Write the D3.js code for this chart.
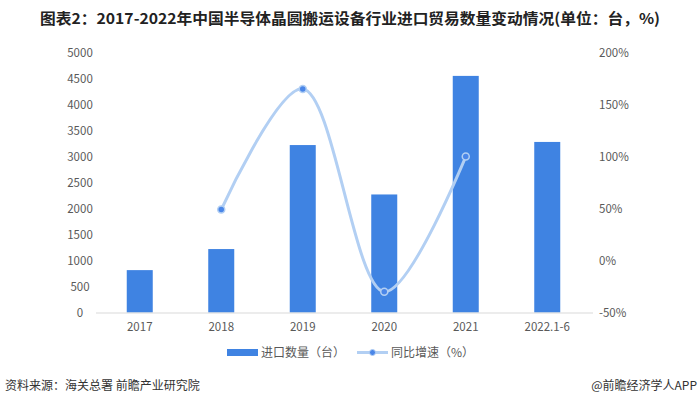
<!DOCTYPE html>
<html><head><meta charset="utf-8">
<script src="https://cdn.jsdelivr.net/npm/d3@7"></script>
<style>
html,body{margin:0;padding:0;background:#fff;}
svg{display:block;font-family:"Noto Sans CJK SC","Noto Sans",sans-serif;}
</style></head>
<body>
<svg id="chart" width="700" height="405"></svg>
<script>
const categories = ["2017","2018","2019","2020","2021","2022.1-6"];
const importQty = [815, 1220, 3220, 2270, 4550, 3280];
const yoyGrowth = [null, 49, 165, -30, 100, null];
const leftTicks = [0,500,1000,1500,2000,2500,3000,3500,4000,4500,5000];
const rightTicks = [-50,0,50,100,150,200];
const titleText = "图表2：2017-2022年中国半导体晶圆搬运设备行业进口贸易数量变动情况(单位：台，%)";
const legendLabels = ["进口数量（台）","同比增速（%）"];
const sourceText = "资料来源：海关总署 前瞻产业研究院";
const brandText = "@前瞻经济学人APP";

const svg = d3.select("#chart");
const barColor = "#3f83e2", lineColor = "#b2cff3", dotColor = "#4a86e8", textColor = "#595959";

const x = d3.scaleBand().domain(categories).range([99, 588]);
const yL = d3.scaleLinear().domain([0,5000]).range([312.5, 52.5]);
const yR = d3.scaleLinear().domain([-50,200]).range([312.5, 52.5]);

// title
svg.append("text").attr("x",350).attr("y",24).attr("text-anchor","middle")
  .attr("font-size",15).attr("font-weight","bold").attr("fill","#222")
  .attr("textLength",620).attr("lengthAdjust","spacingAndGlyphs").text(titleText);

// left axis labels
svg.append("g").selectAll("text").data(leftTicks).join("text")
  .attr("x",80).attr("y",d=>yL(d)).attr("dy","0.35em").attr("text-anchor","middle")
  .attr("font-size",11.5).attr("fill",textColor).text(d=>d);

// right axis labels
svg.append("g").selectAll("text").data(rightTicks).join("text")
  .attr("x",599).attr("y",d=>yR(d)).attr("dy","0.35em").attr("text-anchor","start")
  .attr("font-size",11.5).attr("fill",textColor).text(d=>d+"%");

// bars
const bw = 26;
svg.append("g").selectAll("rect").data(categories).join("rect")
  .attr("x",(d)=>x(d)+x.bandwidth()/2-bw/2).attr("width",bw)
  .attr("y",(d,i)=>yL(importQty[i])).attr("height",(d,i)=>yL(0)-yL(importQty[i]))
  .attr("fill",barColor);

// x axis line
svg.append("line").attr("x1",x.range()[0]-3).attr("x2",x.range()[1]+5)
  .attr("y1",yL(0)+0.5).attr("y2",yL(0)+0.5).attr("stroke","#d9d9d9").attr("stroke-width",1);

// x labels
svg.append("g").selectAll("text").data(categories).join("text")
  .attr("x",d=>x(d)+x.bandwidth()/2).attr("y",331).attr("text-anchor","middle")
  .attr("font-size",11.5).attr("fill",textColor).text(d=>d);

// line
const pts = categories.map((c,i)=>({c, v:yoyGrowth[i]})).filter(p=>p.v!==null);
const line = d3.line().x(p=>x(p.c)+x.bandwidth()/2).y(p=>yR(p.v)).curve(d3.curveCatmullRom.alpha(0.5));
svg.append("path").datum(pts).attr("d",line).attr("fill","none")
  .attr("stroke",lineColor).attr("stroke-width",3).attr("stroke-linecap","round");
svg.append("g").selectAll("circle").data(pts).join("circle")
  .attr("cx",p=>x(p.c)+x.bandwidth()/2).attr("cy",p=>yR(p.v)).attr("r",3.5)
  .attr("fill",dotColor).attr("stroke",lineColor).attr("stroke-width",1.5);

// legend
const lg = svg.append("g");
lg.append("rect").attr("x",227).attr("y",349).attr("width",31).attr("height",7).attr("fill",barColor);
lg.append("text").attr("x",261).attr("y",357).attr("font-size",12).attr("fill",textColor).text(legendLabels[0]);
lg.append("line").attr("x1",357).attr("x2",388).attr("y1",352.5).attr("y2",352.5).attr("stroke",lineColor).attr("stroke-width",3);
lg.append("circle").attr("cx",372.5).attr("cy",352.5).attr("r",3).attr("fill",dotColor).attr("stroke",lineColor).attr("stroke-width",1);
lg.append("text").attr("x",391).attr("y",357).attr("font-size",12).attr("fill",textColor).text(legendLabels[1]);

// footer
svg.append("text").attr("x",5).attr("y",390).attr("font-size",12).attr("fill","#333").text(sourceText);
svg.append("text").attr("x",697).attr("y",390).attr("text-anchor","end").attr("font-size",12).attr("fill","#333").text(brandText);
</script>
</body></html>
